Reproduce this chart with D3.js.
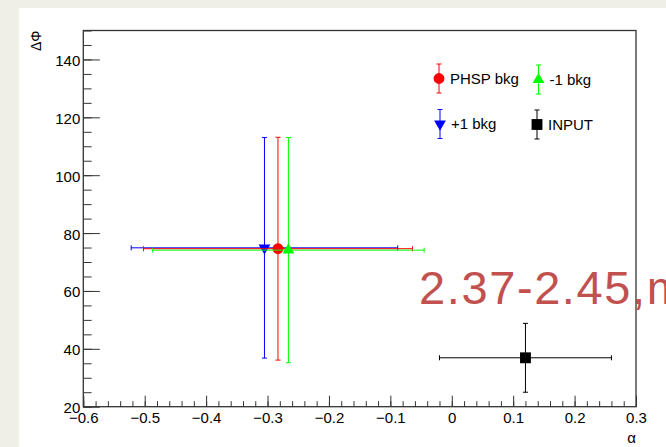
<!DOCTYPE html>
<html>
<head>
<meta charset="utf-8">
<script src="https://cdn.jsdelivr.net/npm/d3@7"></script>
<style>
  html, body { margin: 0; padding: 0; background: #efefe8; overflow: hidden; }
  svg { display: block; font-family: "Liberation Sans", Arial, Helvetica, sans-serif; }
</style>
</head>
<body>
<svg id="chart" width="666" height="447"></svg>
<script>
// Fit results: alpha vs. delta-phi for each background hypothesis
const seriesNames = ["+1 bkg", "PHSP bkg", "-1 bkg", "INPUT"];
const seriesColors = ["#0000ff", "#ff0000", "#00ff00", "#000000"];
const seriesMarkers = ["triangleDown", "circle", "triangleUp", "square"];
const alphaValues = [-0.305, -0.283, -0.266, 0.12];
const alphaErrors = [0.217, 0.219, 0.221, 0.14];
const dphiValues = [74.9, 74.6, 74.1, 36.9];
const dphiErrors = [38.1, 38.5, 38.9, 11.9];

const xTickValues = [-0.6, -0.5, -0.4, -0.3, -0.2, -0.1, 0, 0.1, 0.2, 0.3];
const yTickValues = [20, 40, 60, 80, 100, 120, 140];

// legend layout order (row by row)
const legendOrder = ["PHSP bkg", "-1 bkg", "+1 bkg", "INPUT"];

const svg = d3.select("#chart");

// canvas
svg.append("rect").attr("x", 19).attr("y", 8).attr("width", 647).attr("height", 439).attr("fill", "#ffffff");

const frame = { left: 83.3, right: 636, top: 30.5, bottom: 406.7 };
const x = d3.scaleLinear().domain([-0.6, 0.3]).range([frame.left, frame.right]);
const y = d3.scaleLinear().domain([20, 150]).range([frame.bottom, frame.top]);

const axisColor = "#333";

// x axis: major + minor ticks pointing into the frame
const xMinor = d3.range(-0.6, 0.3001, 0.02).map(v => +v.toFixed(2));
const gx = svg.append("g").attr("transform", `translate(0,${frame.bottom})`);
gx.call(d3.axisBottom(x).tickValues(xMinor).tickSize(-5.5).tickSizeOuter(0).tickFormat(""));
const gx2 = svg.append("g").attr("transform", `translate(0,${frame.bottom})`);
gx2.call(d3.axisBottom(x).tickValues(xTickValues).tickSize(-11).tickSizeOuter(0)
  .tickFormat(d => d === 0 ? "0" : d3.format(".1f")(d)).tickPadding(6));
[gx, gx2].forEach(g => {
  g.select(".domain").remove();
  g.selectAll("line").attr("stroke", axisColor).attr("stroke-width", 1);
});
gx2.selectAll("text").attr("y", 6).attr("dy", "0.72em").attr("font-size", 15)
  .attr("fill", "#000").attr("font-family", "Liberation Sans, Arial, sans-serif");

// y axis
const yMinor = d3.range(20, 150.001, 5);
const gy = svg.append("g").attr("transform", `translate(${frame.left},0)`);
gy.call(d3.axisLeft(y).tickValues(yMinor).tickSize(-8.3).tickSizeOuter(0).tickFormat(""));
const gy2 = svg.append("g").attr("transform", `translate(${frame.left},0)`);
gy2.call(d3.axisLeft(y).tickValues(yTickValues).tickSize(-16.5).tickSizeOuter(0).tickPadding(3));
[gy, gy2].forEach(g => {
  g.select(".domain").remove();
  g.selectAll("line").attr("stroke", axisColor).attr("stroke-width", 1);
});
gy2.selectAll("text").attr("x", -3).attr("dy", "0.4em").attr("font-size", 15)
  .attr("fill", "#000").attr("font-family", "Liberation Sans, Arial, sans-serif");

// frame
svg.append("rect")
  .attr("x", frame.left).attr("y", frame.top)
  .attr("width", frame.right - frame.left).attr("height", frame.bottom - frame.top)
  .attr("fill", "none").attr("stroke", axisColor).attr("stroke-width", 1.3);

// axis titles
svg.append("text").attr("x", frame.right).attr("y", 443).attr("text-anchor", "end")
  .attr("font-size", 15).text("α");
svg.append("text").attr("transform", `translate(41,${frame.top}) rotate(-90)`)
  .attr("text-anchor", "end").attr("font-size", 14).text("ΔΦ");

// markers
function markerPath(kind) {
  switch (kind) {
    case "circle": return d3.symbol(d3.symbolCircle, 92)();
    case "square": return d3.symbol(d3.symbolSquare, 118)();
    case "triangleUp": return d3.symbol(d3.symbolTriangle, 60)();
    case "triangleDown": return d3.symbol(d3.symbolTriangle, 60)();
  }
}
function drawMarker(g, kind, cx, cy, color) {
  g.append("path").attr("d", markerPath(kind))
    .attr("transform", `translate(${cx},${cy})` + (kind === "triangleDown" ? " rotate(180)" : ""))
    .attr("fill", color);
}

const cap = 2.5;
const plot = svg.append("g");
seriesNames.forEach((name, i) => {
  const g = plot.append("g");
  const c = seriesColors[i];
  const cx = x(alphaValues[i]), cy = y(dphiValues[i]);
  const x0 = x(alphaValues[i] - alphaErrors[i]), x1 = x(alphaValues[i] + alphaErrors[i]);
  const y0 = y(dphiValues[i] - dphiErrors[i]), y1 = y(dphiValues[i] + dphiErrors[i]);
  const segs = [
    [x0, cy, x1, cy], [cx, y0, cx, y1],
    [x0, cy - cap, x0, cy + cap], [x1, cy - cap, x1, cy + cap],
    [cx - cap, y0, cx + cap, y0], [cx - cap, y1, cx + cap, y1]
  ];
  segs.forEach(s => g.append("line")
    .attr("x1", s[0]).attr("y1", s[1]).attr("x2", s[2]).attr("y2", s[3])
    .attr("stroke", c).attr("stroke-width", 1));
  drawMarker(g, seriesMarkers[i], cx, cy, c);
});

// legend
const legendPos = [[439, 78.5], [538.5, 79.5], [440, 124], [537, 124.5]];
const legend = svg.append("g");
legendOrder.forEach((name, k) => {
  const i = seriesNames.indexOf(name);
  const [lx, ly] = legendPos[k];
  const c = seriesColors[i];
  legend.append("line").attr("x1", lx).attr("x2", lx).attr("y1", ly - 14.5).attr("y2", ly + 14.5)
    .attr("stroke", c).attr("stroke-width", 1);
  [ly - 14.5, ly + 14.5].forEach(yy => legend.append("line")
    .attr("x1", lx - cap).attr("x2", lx + cap).attr("y1", yy).attr("y2", yy)
    .attr("stroke", c).attr("stroke-width", 1));
  drawMarker(legend, seriesMarkers[i], lx, ly, c);
  legend.append("text").attr("x", lx + 11).attr("y", ly + 5.2)
    .attr("font-size", 15).text(name);
});

// mass window annotation
svg.append("text").attr("x", 419).attr("y", 304)
  .attr("font-size", 47).attr("letter-spacing", 1.6)
  .attr("fill", "#c2504e").text("2.37-2.45,m");
</script>
</body>
</html>
